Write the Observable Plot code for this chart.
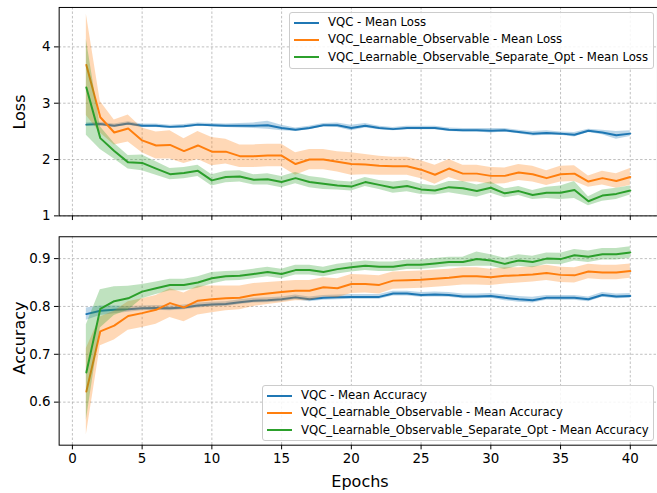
<!DOCTYPE html>
<html>
<head>
<meta charset="utf-8">
<script src="https://cdn.jsdelivr.net/npm/d3@7"></script>
<script src="https://cdn.jsdelivr.net/npm/@observablehq/plot@0.6"></script>
<style>
  html, body { margin: 0; padding: 0; background: white; }
  #wrap { position: relative; width: 657px; height: 493px; overflow: hidden; font-family: "DejaVu Sans", sans-serif; }
  #wrap svg { display: block; }
  .legend { position: absolute; box-sizing: border-box; border: 1px solid #cccccc; border-radius: 3px; background: rgba(255,255,255,0.85); font-size: 11.7px; color: black; padding: 1px 0 0 4px; }
  .legend .row { height: 17.3px; line-height: 17.3px; white-space: nowrap; display: flex; align-items: center; }
  .legend .sw { display: inline-block; width: 25px; height: 2px; margin-right: 9px; }
  .ylab { position: absolute; font-size: 16px; color: black; transform: translate(-50%, -50%) rotate(-90deg); white-space: nowrap; }
  .xlab { position: absolute; font-size: 16px; color: black; transform: translate(-50%, -50%); white-space: nowrap; }
</style>
</head>
<body>
<div id="wrap"></div>
<script>
const epochs = [1,2,3,4,5,6,7,8,9,10,11,12,13,14,15,16,17,18,19,20,21,22,23,24,25,26,27,28,29,30,31,32,33,34,35,36,37,38,39,40];
const seriesNames = ["VQC", "VQC_Learnable_Observable", "VQC_Learnable_Observable_Separate_Opt"];
const xTicks = [0,5,10,15,20,25,30,35,40];
const lossTicks = [1,2,3,4];
const accTicks = [0.6,0.7,0.8,0.9];

const lossVQC = [2.62,2.63,2.60,2.64,2.60,2.60,2.58,2.59,2.62,2.61,2.60,2.60,2.60,2.61,2.56,2.53,2.56,2.61,2.61,2.56,2.60,2.56,2.54,2.56,2.56,2.56,2.53,2.52,2.52,2.51,2.52,2.49,2.46,2.47,2.46,2.44,2.51,2.48,2.43,2.46];
const lossVQCStd = [0.03,0.03,0.03,0.03,0.03,0.03,0.03,0.03,0.03,0.03,0.03,0.04,0.05,0.07,0.05,0.03,0.03,0.03,0.04,0.05,0.04,0.03,0.03,0.03,0.03,0.03,0.03,0.03,0.03,0.04,0.03,0.03,0.04,0.04,0.03,0.04,0.03,0.04,0.07,0.05];
const lossLO = [3.68,2.75,2.48,2.55,2.34,2.25,2.26,2.15,2.25,2.14,2.14,2.06,2.06,2.07,2.07,1.92,2.00,2.00,1.96,1.92,1.91,1.89,1.88,1.88,1.82,1.73,1.84,1.75,1.75,1.71,1.71,1.77,1.74,1.67,1.74,1.75,1.61,1.67,1.62,1.69];
const lossLOStd = [0.90,0.28,0.22,0.24,0.22,0.24,0.25,0.22,0.25,0.25,0.22,0.20,0.20,0.20,0.20,0.20,0.18,0.18,0.18,0.20,0.18,0.17,0.16,0.16,0.16,0.17,0.16,0.15,0.15,0.15,0.14,0.14,0.14,0.13,0.14,0.14,0.10,0.12,0.13,0.15];
const lossLOSep = [3.28,2.38,2.15,1.95,1.94,1.84,1.74,1.76,1.80,1.63,1.69,1.70,1.64,1.65,1.60,1.67,1.60,1.57,1.54,1.52,1.60,1.55,1.50,1.53,1.47,1.45,1.51,1.49,1.44,1.50,1.40,1.44,1.37,1.41,1.41,1.46,1.26,1.36,1.39,1.45];
const lossLOSepStd = [0.85,0.20,0.14,0.12,0.14,0.12,0.10,0.10,0.10,0.10,0.10,0.10,0.09,0.10,0.10,0.10,0.10,0.10,0.08,0.08,0.08,0.08,0.10,0.10,0.09,0.08,0.10,0.12,0.11,0.10,0.08,0.08,0.08,0.10,0.12,0.15,0.08,0.10,0.10,0.08];

const accVQC = [0.784,0.791,0.793,0.794,0.796,0.797,0.796,0.798,0.802,0.804,0.805,0.809,0.812,0.813,0.815,0.819,0.815,0.818,0.819,0.820,0.820,0.820,0.827,0.827,0.824,0.825,0.824,0.821,0.821,0.822,0.818,0.815,0.813,0.818,0.818,0.818,0.815,0.824,0.821,0.822];
const accVQCStd = [0.013,0.010,0.008,0.006,0.005,0.005,0.005,0.005,0.005,0.005,0.005,0.005,0.005,0.005,0.005,0.005,0.005,0.005,0.005,0.005,0.005,0.005,0.005,0.005,0.005,0.005,0.005,0.005,0.005,0.005,0.006,0.006,0.006,0.005,0.005,0.005,0.005,0.005,0.005,0.005];
const accLO = [0.622,0.748,0.760,0.780,0.786,0.793,0.807,0.798,0.812,0.815,0.817,0.818,0.824,0.827,0.830,0.833,0.833,0.840,0.838,0.847,0.847,0.845,0.854,0.855,0.856,0.858,0.860,0.863,0.863,0.861,0.864,0.865,0.867,0.870,0.866,0.865,0.873,0.871,0.871,0.874];
const accLOStd = [0.090,0.030,0.030,0.030,0.030,0.030,0.030,0.030,0.030,0.028,0.026,0.025,0.024,0.023,0.022,0.021,0.021,0.020,0.020,0.020,0.019,0.019,0.018,0.018,0.018,0.018,0.018,0.018,0.018,0.017,0.017,0.016,0.016,0.016,0.016,0.016,0.015,0.015,0.015,0.015];
const accLOSep = [0.662,0.795,0.811,0.817,0.831,0.838,0.845,0.845,0.850,0.859,0.863,0.864,0.868,0.872,0.868,0.876,0.876,0.872,0.878,0.882,0.885,0.883,0.883,0.887,0.887,0.890,0.893,0.893,0.899,0.896,0.889,0.896,0.893,0.900,0.899,0.907,0.904,0.909,0.909,0.913];
const accLOSepStd = [0.100,0.040,0.030,0.025,0.015,0.013,0.012,0.012,0.012,0.012,0.010,0.010,0.010,0.010,0.010,0.010,0.010,0.010,0.010,0.010,0.010,0.010,0.010,0.010,0.010,0.010,0.010,0.010,0.015,0.012,0.012,0.012,0.012,0.012,0.012,0.012,0.012,0.012,0.012,0.012];

const colors = ["#1f77b4", "#ff7f0e", "#2ca02c"];

function rows(means, stds) {
  return epochs.map((e, i) => ({epoch: e, mean: means[i], lo: means[i] - stds[i], hi: means[i] + stds[i]}));
}

function seriesMarks(list) {
  const marks = [];
  list.forEach(([m, s], k) => {
    const d = rows(m, s);
    marks.push(Plot.lineY(d, {x: "epoch", y: "mean", stroke: colors[k], strokeWidth: 2}));
    marks.push(Plot.areaY(d, {x: "epoch", y1: "lo", y2: "hi", fill: colors[k], fillOpacity: 0.3}));
  });
  return marks;
}

const gridStyle = {stroke: "#b0b0b0", strokeOpacity: 1, strokeWidth: 0.8, strokeDasharray: "2.5,2"};
const common = {
  width: 661,
  marginLeft: 59,
  marginRight: 0,
  x: {domain: [-0.95, 41.95]},
  style: {fontFamily: "DejaVu Sans", fontSize: "13.5px", color: "black", background: "white", overflow: "visible"}
};

const lossChart = Plot.plot({
  ...common,
  height: 230,
  marginTop: 7,
  marginBottom: 13.3,
  y: {domain: [1.0, 4.70]},
  marks: [
    Plot.gridX(xTicks, gridStyle),
    Plot.gridY(lossTicks, gridStyle),
    ...seriesMarks([[lossVQC, lossVQCStd], [lossLO, lossLOStd], [lossLOSep, lossLOSepStd]]),
    Plot.frame({stroke: "black", strokeWidth: 1}),
    Plot.axisX(xTicks, {tickSize: 4.7, tickFormat: () => "", label: null}),
    Plot.axisY(lossTicks, {tickSize: 4.7, tickPadding: 4, label: null, fontSize: 13.5, tickFormat: d3.format("d")})
  ]
});

const accChart = Plot.plot({
  ...common,
  height: 263,
  marginTop: 7.3,
  marginBottom: 46,
  y: {domain: [0.51, 0.9457]},
  marks: [
    Plot.gridX(xTicks, gridStyle),
    Plot.gridY(accTicks, gridStyle),
    ...seriesMarks([[accVQC, accVQCStd], [accLO, accLOStd], [accLOSep, accLOSepStd]]),
    Plot.frame({stroke: "black", strokeWidth: 1}),
    Plot.axisX(xTicks, {tickSize: 4.7, tickPadding: 4, label: null, fontSize: 13.5, tickFormat: d3.format("d")}),
    Plot.axisY(accTicks, {tickSize: 4.7, tickPadding: 4, label: null, fontSize: 13.5, tickFormat: d3.format(".1f")})
  ]
});

const wrap = document.getElementById("wrap");
wrap.appendChild(lossChart);
wrap.appendChild(accChart);

function addLegend(left, topPx, width, height, suffix) {
  const div = document.createElement("div");
  div.className = "legend";
  Object.assign(div.style, {left: left + "px", top: topPx + "px", width: width + "px", height: height + "px"});
  seriesNames.forEach((name, k) => {
    const row = document.createElement("div");
    row.className = "row";
    const sw = document.createElement("span");
    sw.className = "sw";
    sw.style.background = colors[k];
    row.appendChild(sw);
    row.appendChild(document.createTextNode(name + " - " + suffix));
    div.appendChild(row);
  });
  wrap.appendChild(div);
}
addLegend(289, 12, 365, 57, "Mean Loss");
addLegend(262, 385, 392, 56, "Mean Accuracy");

function addLabel(cls, text, x, y) {
  const el = document.createElement("div");
  el.className = cls;
  el.textContent = text;
  el.style.left = x + "px";
  el.style.top = y + "px";
  wrap.appendChild(el);
}
addLabel("ylab", "Loss", 19, 112);
addLabel("ylab", "Accuracy", 19, 338);
addLabel("xlab", "Epochs", 360, 481);
</script>
</body>
</html>
